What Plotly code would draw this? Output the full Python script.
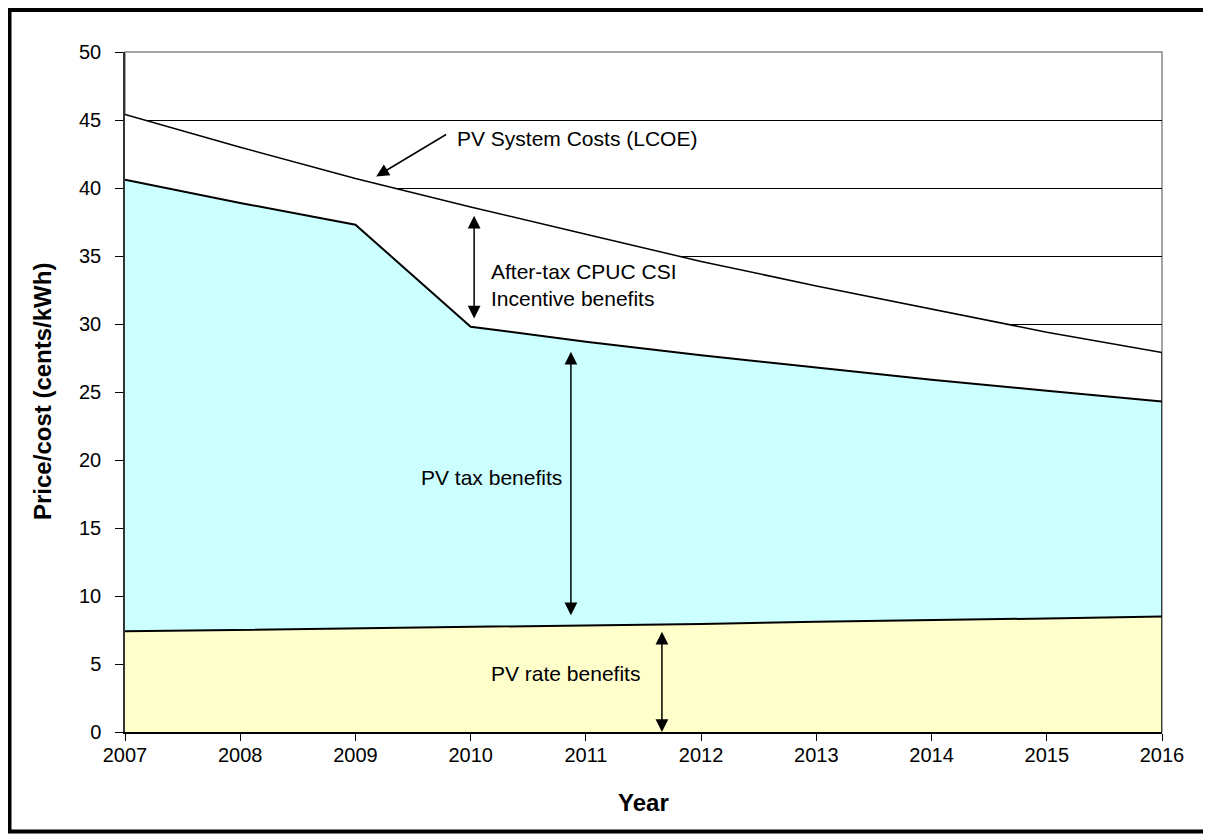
import plotly.graph_objects as go

years = [2007, 2008, 2009, 2010, 2011, 2012, 2013, 2014, 2015, 2016]
# Cumulative boundary lines (cents/kWh)
rate_benefits = [7.4, 7.5, 7.6, 7.7, 7.85, 7.95, 8.1, 8.2, 8.35, 8.5]        # top of yellow area
after_incentive = [40.6, 38.9, 37.3, 29.8, 28.7, 27.7, 26.8, 25.9, 25.1, 24.3]  # top of cyan area
system_costs = [45.4, 43.0, 40.7, 38.6, 36.6, 34.6, 32.8, 31.1, 29.4, 27.9]     # PV System Costs (LCOE)
y_ticks = [0, 5, 10, 15, 20, 25, 30, 35, 40, 45, 50]

FONT = "Arial, Liberation Sans, sans-serif"

fig = go.Figure()
fig.add_trace(go.Scatter(x=years, y=rate_benefits, mode="lines", fill="tozeroy",
                         fillcolor="#FFFFCC", line=dict(color="black", width=2),
                         name="PV rate benefits", hoverinfo="skip"))
fig.add_trace(go.Scatter(x=years, y=after_incentive, mode="lines", fill="tonexty",
                         fillcolor="#CCFFFF", line=dict(color="black", width=2),
                         name="PV tax benefits", hoverinfo="skip"))
fig.add_trace(go.Scatter(x=years, y=system_costs, mode="lines", fill="tonexty",
                         fillcolor="#FFFFFF", line=dict(color="black", width=1.5),
                         name="PV System Costs (LCOE)", hoverinfo="skip"))

# page offset of the figure (default body margin)
OFF = 8
W, H = 1203, 826
# plot area in page pixels
PX0, PX1, PY0, PY1 = 125, 1162, 52, 732
L, R, T, B = PX0 - OFF, W - (PX1 - OFF), PY0 - OFF, H - (PY1 - OFF)
pw, ph = PX1 - PX0, PY1 - PY0

def px_x(p):
    return (p - PX0) / pw

def px_y(p):
    return (PY1 - p) / ph

shapes = [
    # plot border (gray), drawn above grid but below traces
    dict(type="rect", xref="paper", yref="paper", x0=0, x1=1, y0=0, y1=1,
         line=dict(color="#888888", width=1.5), layer="between"),
    # right edge of the stacked areas
    dict(type="line", xref="x", yref="y", x0=years[-1], x1=years[-1], y0=0, y1=system_costs[-1],
         line=dict(color="black", width=1.5), layer="above"),
    # outer frame
    dict(type="rect", xref="paper", yref="paper",
         x0=px_x(9.5), x1=px_x(1208.5), y0=px_y(831.5), y1=px_y(10),
         line=dict(color="black", width=4)),
]

annotations = [
    dict(text="<b>Price/cost (cents/kWh)</b>", xref="paper", yref="paper", x=px_x(42), y=0.5,
         textangle=-90, showarrow=False, font=dict(family=FONT, size=24, color="black"),
         xanchor="center", yanchor="middle"),
    dict(text="<b>Year</b>", xref="paper", yref="paper", x=0.5, y=px_y(802),
         showarrow=False, font=dict(family=FONT, size=24, color="black"),
         xanchor="center", yanchor="middle"),
    # PV System Costs arrow + label
    dict(text="", x=2009.18, y=40.85, ax=2009.80, ay=44.0, xref="x", yref="y",
         axref="x", ayref="y", showarrow=True, arrowhead=2, arrowsize=1.7,
         arrowwidth=1.5, arrowcolor="black", standoff=0),
    dict(text="PV System Costs (LCOE)", x=2009.86, y=43.65, xref="x", yref="y",
         showarrow=False, xanchor="left", yanchor="middle",
         font=dict(family=FONT, size=21, color="black")),
    # After-tax CPUC CSI incentive double arrow
    dict(text="", x=2010.03, y=30.4, ax=2010.03, ay=38.07, xref="x", yref="y",
         axref="x", ayref="y", showarrow=True, arrowhead=2, startarrowhead=2,
         arrowside="end+start", arrowsize=1.7, startarrowsize=1.7,
         arrowwidth=1.5, arrowcolor="black", standoff=0, startstandoff=0),
    dict(text="After-tax CPUC CSI<br>Incentive benefits", x=2010.16, y=32.85,
         xref="x", yref="y", showarrow=False, xanchor="left", yanchor="middle",
         align="left", font=dict(family=FONT, size=21, color="black")),
    # PV tax benefits double arrow
    dict(text="", x=2010.87, y=8.58, ax=2010.87, ay=28.07, xref="x", yref="y",
         axref="x", ayref="y", showarrow=True, arrowhead=2, startarrowhead=2,
         arrowside="end+start", arrowsize=1.7, startarrowsize=1.7,
         arrowwidth=1.5, arrowcolor="black", standoff=0, startstandoff=0),
    dict(text="PV tax benefits", x=2010.81, y=18.73, xref="x", yref="y",
         showarrow=False, xanchor="right", yanchor="middle",
         font=dict(family=FONT, size=21, color="black")),
    # PV rate benefits double arrow
    dict(text="", x=2011.66, y=0.0, ax=2011.66, ay=7.48, xref="x", yref="y",
         axref="x", ayref="y", showarrow=True, arrowhead=2, startarrowhead=2,
         arrowside="end+start", arrowsize=1.7, startarrowsize=1.7,
         arrowwidth=1.5, arrowcolor="black", standoff=0, startstandoff=0),
    dict(text="PV rate benefits", x=2011.49, y=4.3, xref="x", yref="y",
         showarrow=False, xanchor="right", yanchor="middle",
         font=dict(family=FONT, size=21, color="black")),
]

fig.update_layout(
    width=W, height=H,
    margin=dict(l=L, r=R, t=T, b=B),
    paper_bgcolor="white", plot_bgcolor="white",
    showlegend=False,
    font=dict(family=FONT, size=20, color="black"),
    shapes=shapes, annotations=annotations,
    xaxis=dict(range=[years[0], years[-1]], tickvals=years, ticktext=[str(y) for y in years],
               showgrid=False, zeroline=False, showline=True, linecolor="black", linewidth=1.5,
               ticks="outside", ticklen=7, tickcolor="black", tickwidth=1,
               ticklabelstandoff=-3,
               tickfont=dict(family=FONT, size=20, color="black")),
    yaxis=dict(range=[0, 50], tickvals=y_ticks, showgrid=True, gridcolor="black", gridwidth=1,
               zeroline=False, showline=True, linecolor="#333333", linewidth=1.5,
               ticks="outside", ticklen=8, tickcolor="black", tickwidth=1,
               ticklabelstandoff=10,
               tickfont=dict(family=FONT, size=20, color="black")),
)

fig.write_html("out.html")
